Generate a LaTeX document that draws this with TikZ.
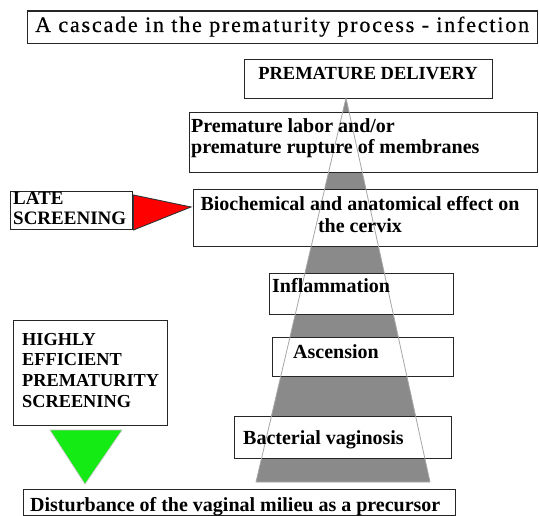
\documentclass[tikz,border=0pt]{standalone}
\usepackage{fontspec}
\setmainfont{Liberation Serif}
\begin{document}
\begin{tikzpicture}[x=1pt,y=-1pt,
  box/.style={draw=black!85,line width=1.3pt,fill=white,inner sep=0pt,anchor=north west},
  txt/.style={font=\fontsize{20}{22}\selectfont\bfseries,inner sep=0pt,text=black},
  captxt/.style={txt,font=\fontsize{19}{22}\selectfont\bfseries},
  conefill/.style={fill=black!46,draw=none},
  coneline/.style={draw=black!35,line width=0.8pt,line join=round}]
\useasboundingbox (0,0) rectangle (539,516);
\newcommand\mybox[5]{\node[box,minimum width={#4-#2},minimum height={#5-#3}] (#1) at (#2,#3) {};}
% cone
\coordinate (apex) at (346,98);
\coordinate (bl) at (256,482);
\coordinate (br) at (430,482);
\fill[conefill] (apex) -- (bl) -- (br) -- cycle;
% boxes
\mybox{title}{27}{10.5}{537}{43}
\mybox{pd}{244}{59}{492}{98}
\mybox{pl}{189}{112}{537}{172}
\mybox{bio}{193}{189}{537}{246}
\mybox{late}{10}{191}{132}{229}
\mybox{infl}{269}{273}{453}{314}
\mybox{asc}{272}{337}{453}{376}
\mybox{high}{13}{320}{167}{425}
\mybox{bact}{234}{416}{451}{458}
\mybox{dist}{23}{489}{455}{515.4}
% cone outline
\draw[coneline] (apex) -- (bl) -- (br) -- cycle;
% red and green pointers
\coordinate (r1) at (133.5,195);
\coordinate (r2) at (133.5,230);
\coordinate (r3) at (191,207);
\filldraw[fill=red,draw=black!80,line width=0.9pt,line join=miter] (r1) -- (r3) -- (r2) -- cycle;
\coordinate (g1) at (50,430);
\coordinate (g2) at (122,430);
\coordinate (g3) at (85,484);
\filldraw[fill={rgb,255:red,20;green,235;blue,20},draw=black!25,line width=0.6pt] (g1) -- (g2) -- (g3) -- cycle;
% texts
\node[inner sep=0pt,anchor=base west,font=\fontsize{22}{24}\selectfont\addfontfeatures{LetterSpace=8.3,FakeBold=0.5}] (titlet) at (35,32) {A cascade in the prematurity process - infection};
\node[txt,anchor=base,font=\fontsize{18.5}{22}\selectfont\bfseries] (pdt) at (368,80) {PREMATURE DELIVERY};
\node[txt,anchor=base west] (plA) at (191,133) {Premature labor and/or};
\node[txt,anchor=base west] (plB) at (191,154) {premature rupture of membranes};
\node[txt,anchor=base] (bioA) at (360,211) {Biochemical and anatomical effect on};
\node[txt,anchor=base] (bioB) at (360,233) {the cervix};
\node[captxt,anchor=base west] (lateA) at (13,205) {LATE};
\node[captxt,anchor=base west] (lateB) at (13,225) {SCREENING};
\node[txt,anchor=base west] (inflt) at (272,293) {Inflammation};
\node[txt,anchor=base west] (asct) at (293,358) {Ascension};
\node[captxt,anchor=base west,font=\fontsize{18.3}{22}\selectfont\bfseries] (highA) at (22,345) {HIGHLY};
\node[captxt,anchor=base west,font=\fontsize{18.3}{22}\selectfont\bfseries] (highB) at (22,366) {EFFICIENT};
\node[captxt,anchor=base west,font=\fontsize{18.3}{22}\selectfont\bfseries] (highC) at (22,386) {PREMATURITY};
\node[captxt,anchor=base west,font=\fontsize{18.3}{22}\selectfont\bfseries] (highD) at (22,407) {SCREENING};
\node[txt,anchor=base west] (bactt) at (243,444) {Bacterial vaginosis};
\node[txt,anchor=base west] (distt) at (30,511) {Disturbance of the vaginal milieu as a precursor};
\end{tikzpicture}
\end{document}
